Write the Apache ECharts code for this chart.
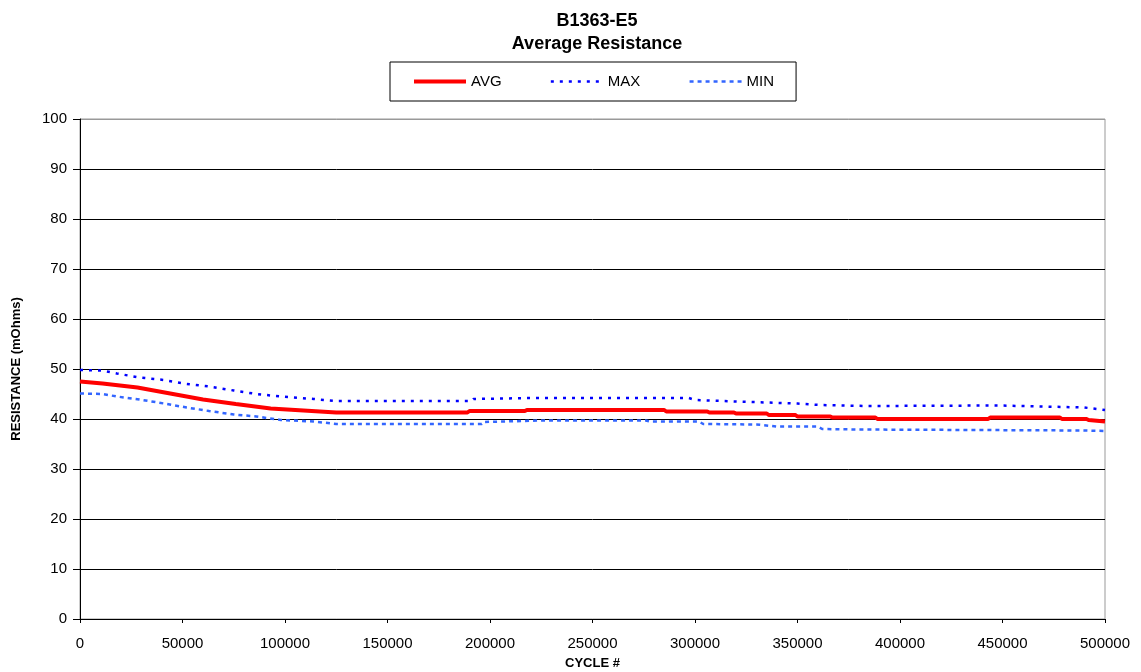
<!DOCTYPE html>
<html>
<head>
<meta charset="utf-8">
<script src="https://cdn.jsdelivr.net/npm/echarts@6/dist/echarts.min.js"></script>
<style>html,body{margin:0;padding:0;background:#fff;}#c{width:1141px;height:672px;}</style>
</head>
<body>
<div id="c"></div>
<script>
// ---- data ----
const avgCycles = [0, 11000, 28000, 44000, 60000, 76000, 93000, 109000, 125000, 189000, 190000, 217000, 218000, 285000, 286000, 306000, 307000, 319000, 320000, 335000, 336000, 349000, 350000, 366000, 367000, 388000, 389000, 443000, 444000, 478000, 479000, 491000, 492000, 500000];
const avgValues = [47.5, 47.1, 46.3, 45.1, 43.9, 43.0, 42.1, 41.7, 41.3, 41.3, 41.6, 41.6, 41.8, 41.8, 41.5, 41.5, 41.3, 41.3, 41.1, 41.1, 40.8, 40.8, 40.5, 40.5, 40.3, 40.3, 40.0, 40.0, 40.3, 40.3, 40.0, 40.0, 39.8, 39.5];

const maxCycles = [0, 11000, 18000, 29000, 41000, 52000, 63000, 75000, 86000, 98000, 114000, 125000, 191000, 192000, 220000, 297000, 300000, 320000, 335000, 350000, 361000, 384000, 448000, 490000, 500000];
const maxValues = [49.8, 49.7, 49.1, 48.3, 47.8, 47.0, 46.5, 45.7, 45.0, 44.5, 44.0, 43.6, 43.6, 44.0, 44.2, 44.2, 43.8, 43.5, 43.3, 43.1, 42.8, 42.6, 42.7, 42.3, 41.8];

const minCycles = [0, 11000, 18000, 29000, 41000, 52000, 63000, 75000, 86000, 98000, 114000, 125000, 196000, 197000, 225000, 276000, 278000, 302000, 304000, 330000, 340000, 360000, 362000, 380000, 490000, 500000];
const minValues = [45.1, 45.0, 44.5, 43.9, 43.1, 42.3, 41.6, 40.9, 40.5, 39.8, 39.5, 39.0, 39.0, 39.4, 39.7, 39.7, 39.5, 39.5, 39.0, 38.9, 38.5, 38.5, 38.0, 37.9, 37.7, 37.6];

const seriesNames = ['AVG', 'MAX', 'MIN'];
const titleLines = ['B1363-E5', 'Average Resistance'];
const xAxisName = 'CYCLE #';
const yAxisName = 'RESISTANCE (mOhms)';

function pairs(xs, ys) { return xs.map((x, i) => [x, ys[i]]); }

const FONT = 'Arial, "Liberation Sans", sans-serif';
const chart = echarts.init(document.getElementById('c'), null, { renderer: 'canvas' });
const gridColors = ['#000','#000','#000','#000','#000','#000','#000','#000','#000','#000','#999'];
const legendWidths = [4, 2.5, 2.5];

chart.setOption({
  backgroundColor: '#fff',
  animation: false,
  title: {
    text: titleLines.join('\n'),
    left: 592,
    top: 5,
    textAlign: 'center',
    textStyle: { fontFamily: FONT, fontSize: 18, fontWeight: 'bold', color: '#000', lineHeight: 23 }
  },
  legend: {
    data: seriesNames.map((n, i) => ({ name: n, lineStyle: { width: legendWidths[i] } })),
    left: 390,
    top: 62,
    padding: [12, 22, 12, 22],
    itemGap: 48,
    itemWidth: 52,
    itemHeight: 14,
    borderColor: '#000',
    borderWidth: 1,
    itemStyle: { opacity: 0 },
    textStyle: { fontFamily: FONT, fontSize: 15, color: '#000' }
  },
  grid: {
    left: 80, right: 36, top: 119, bottom: 53,
    outerBoundsMode: 'none',
    show: true, borderColor: '#999', borderWidth: 1, backgroundColor: 'transparent',
    containLabel: false
  },
  xAxis: {
    type: 'value',
    min: 0, max: 500000, interval: 50000,
    name: xAxisName,
    nameLocation: 'middle',
    nameGap: 38,
    nameTextStyle: { fontFamily: FONT, fontSize: 13, fontWeight: 'bold', color: '#000' },
    axisLine: { show: true, lineStyle: { color: '#000', width: 1 } },
    axisTick: { show: true, length: 4, lineStyle: { color: '#000' } },
    axisLabel: { fontFamily: FONT, fontSize: 15, color: '#000', margin: 17, formatter: v => String(v) },
    splitLine: { show: false }
  },
  yAxis: {
    type: 'value',
    min: 0, max: 100, interval: 10,
    name: yAxisName,
    nameLocation: 'middle',
    nameGap: 57,
    nameRotate: 90,
    nameTextStyle: { fontFamily: FONT, fontSize: 13, fontWeight: 'bold', color: '#000' },
    axisLine: { show: true, lineStyle: { color: '#000', width: 1 } },
    axisTick: { show: true, length: 7, lineStyle: { color: '#000' } },
    axisLabel: { fontFamily: FONT, fontSize: 15, color: '#000', margin: 13 },
    splitLine: { show: true, lineStyle: { color: gridColors, width: 1 } }
  },
  series: [
    {
      name: seriesNames[0], type: 'line', symbol: 'none', z: 5,
      data: pairs(avgCycles, avgValues),
      lineStyle: { color: '#FF0000', width: 4 },
      itemStyle: { color: '#FF0000' }
    },
    {
      name: seriesNames[1], type: 'line', symbol: 'none', z: 4,
      data: pairs(maxCycles, maxValues),
      lineStyle: { color: '#0000FF', width: 2.5, type: [3, 6] },
      itemStyle: { color: '#0000FF' }
    },
    {
      name: seriesNames[2], type: 'line', symbol: 'none', z: 4,
      data: pairs(minCycles, minValues),
      lineStyle: { color: '#3366FF', width: 2.5, type: [4, 4] },
      itemStyle: { color: '#3366FF' }
    }
  ]
});
</script>
</body>
</html>
